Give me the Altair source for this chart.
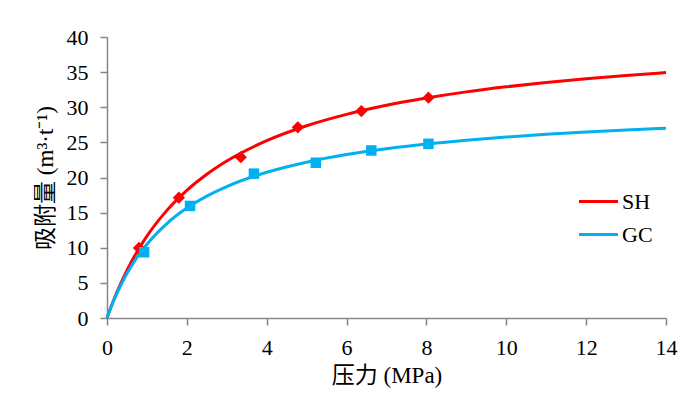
import altair as alt
import pandas as pd

# Fitted curves, values
curve_p = [0, 0.1, 0.25, 0.5, 0.75, 1, 1.5, 2, 2.5, 3, 4, 5, 6, 7, 8, 9, 10, 11, 12, 13, 14]
sh_curve = [0, 1.56, 3.70, 6.79, 9.41, 11.66, 15.32, 18.18, 20.47, 22.35, 25.24, 27.37,
            28.99, 30.28, 31.32, 32.19, 32.91, 33.53, 34.06, 34.52, 34.93]
gc_curve = [0, 1.52, 3.53, 6.33, 8.61, 10.50, 13.45, 15.65, 17.35, 18.71, 20.74, 22.18,
            23.26, 24.09, 24.76, 25.31, 25.76, 26.14, 26.47, 26.76, 27.00]

# Measured points
sh_p = [0.80, 1.80, 3.35, 4.78, 6.37, 8.05]
sh_v = [9.97, 17.12, 22.90, 27.14, 29.45, 31.37]
gc_p = [0.93, 2.08, 3.68, 5.23, 6.62, 8.05]
gc_v = [9.36, 15.95, 20.55, 22.10, 23.85, 24.79]

series = ["SH", "GC"]
colors = ["#FF0000", "#00B0F0"]

curves = pd.DataFrame(
    {"p": curve_p * 2,
     "v": sh_curve + gc_curve,
     "s": ["SH"] * len(curve_p) + ["GC"] * len(curve_p)}
)
pts_sh = pd.DataFrame({"p": sh_p, "v": sh_v})
pts_gc = pd.DataFrame({"p": gc_p, "v": gc_v})

FONT = "'Liberation Serif', 'Noto Sans CJK SC', serif"

axis_style = dict(
    grid=False,
    domainColor="#868686", domainWidth=1.5,
    tickColor="#868686", tickWidth=1.5, tickSize=7,
    labelFont=FONT, labelFontSize=22, labelColor="black", labelPadding=12,
    labelOverlap=False, labelFlush=False,
    titleFont=FONT, titleFontSize=23, titleColor="black", titleFontWeight="normal",
)

x_enc = alt.X("p:Q", scale=alt.Scale(domain=[0, 14], nice=False),
              axis=alt.Axis(values=list(range(0, 15, 2)), title="压力 (MPa)",
                            titlePadding=6, **axis_style))
y_enc = alt.Y("v:Q", scale=alt.Scale(domain=[0, 40], nice=False),
              axis=alt.Axis(values=list(range(0, 41, 5)), title="吸附量 (m³·t⁻¹)",
                            titlePadding=9, **axis_style))

lines = alt.Chart(curves).mark_line(strokeWidth=3, interpolate="monotone").encode(
    x=x_enc, y=y_enc,
    color=alt.Color("s:N", scale=alt.Scale(domain=series, range=colors),
                    sort=series,
                    legend=alt.Legend(title=None, orient="none", legendX=477, legendY=150,
                                      symbolType="M-1.5,0H1.5", symbolSize=676,
                                      symbolStrokeWidth=3, labelFont=FONT,
                                      labelFontSize=22, labelColor="black",
                                      rowPadding=7, labelOffset=9, padding=0)),
)

p_sh = alt.Chart(pts_sh).mark_point(shape="diamond", filled=True, opacity=1,
                                    color="#FF0000", size=150).encode(x=x_enc, y=y_enc)
p_gc = alt.Chart(pts_gc).mark_point(shape="square", filled=True, opacity=1,
                                    color="#00B0F0", size=110).encode(x=x_enc, y=y_enc)

chart = alt.layer(lines, p_sh, p_gc).properties(
    width=559, height=281,
    autosize=alt.AutoSizeParams(type="none"),
    padding={"left": 99, "top": 29, "right": 26, "bottom": 80},
).configure(font=FONT).configure_view(stroke=None).configure_axis(**axis_style)

chart.save("out.html", embed_options={"renderer": "svg", "actions": False})
